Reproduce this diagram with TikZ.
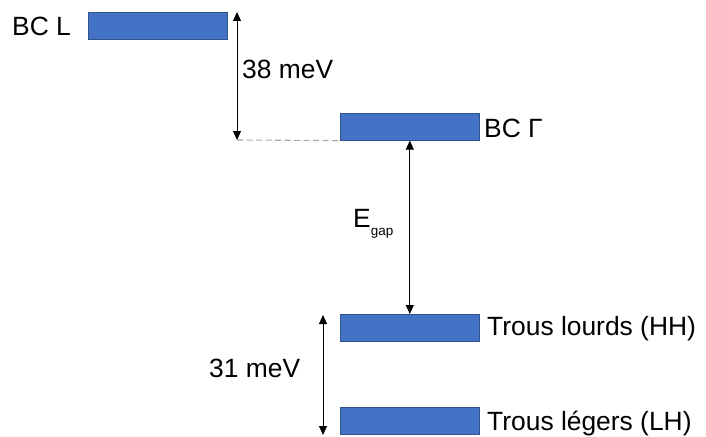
\documentclass[tikz,border=0pt]{standalone}
\usepackage{fontspec}
\setmainfont{Liberation Sans}
\usetikzlibrary{arrows.meta}
\definecolor{bandblue}{HTML}{4472C4}
\definecolor{bandedge}{HTML}{2F528F}
\definecolor{dashgray}{HTML}{A6A6A6}
\begin{document}
\begin{tikzpicture}[x=1pt,y=-1pt,
  band/.style={draw=bandedge,line width=0.6pt,fill=bandblue,minimum width=139pt,minimum height=27pt,inner sep=0pt,anchor=north west},
  lbl/.style={anchor=base west,inner sep=0pt,font=\fontsize{26.4}{30}\selectfont},
  dim/.style={line width=1pt,{Triangle[length=9pt,width=8pt]}-{Triangle[length=9pt,width=8pt]}}]
\useasboundingbox (0,0) rectangle (706,436);
% energy bands
\node[band] (L) at (88,12) {};
\node[band] (G) at (340,113) {};
\node[band] (HH) at (340,314) {};
\node[band] (LH) at (340,407) {};
% labels
\node[lbl] (tL) at (12,36) {BC L};
\node[lbl] (tG) at (484,137) {BC Γ};
\node[lbl] (tHH) at (487,335) {Trous lourds (HH)};
\node[lbl] (tLH) at (487,430) {Trous légers (LH)};
\node[lbl] (t38) at (242,78) {38 meV};
\node[lbl] (t31) at (209,377) {31 meV};
\node[lbl] (tE) at (353,227) {E\raisebox{-8pt}{\fontsize{13.5}{16}\selectfont gap}};
% offsets
\coordinate (a38t) at (237,12);
\coordinate (a38b) at (237,140);
\draw[dashgray,line width=1.1pt,dash pattern=on 6pt off 3.5pt] (a38b) -- (G.south west);
\draw[dim] (a38t) -- (a38b);
\draw[dim] (G.south) -- (HH.north);
\coordinate (a31t) at (323,315);
\coordinate (a31b) at (323,435);
\draw[dim] (a31t) -- (a31b);
\end{tikzpicture}
\end{document}
